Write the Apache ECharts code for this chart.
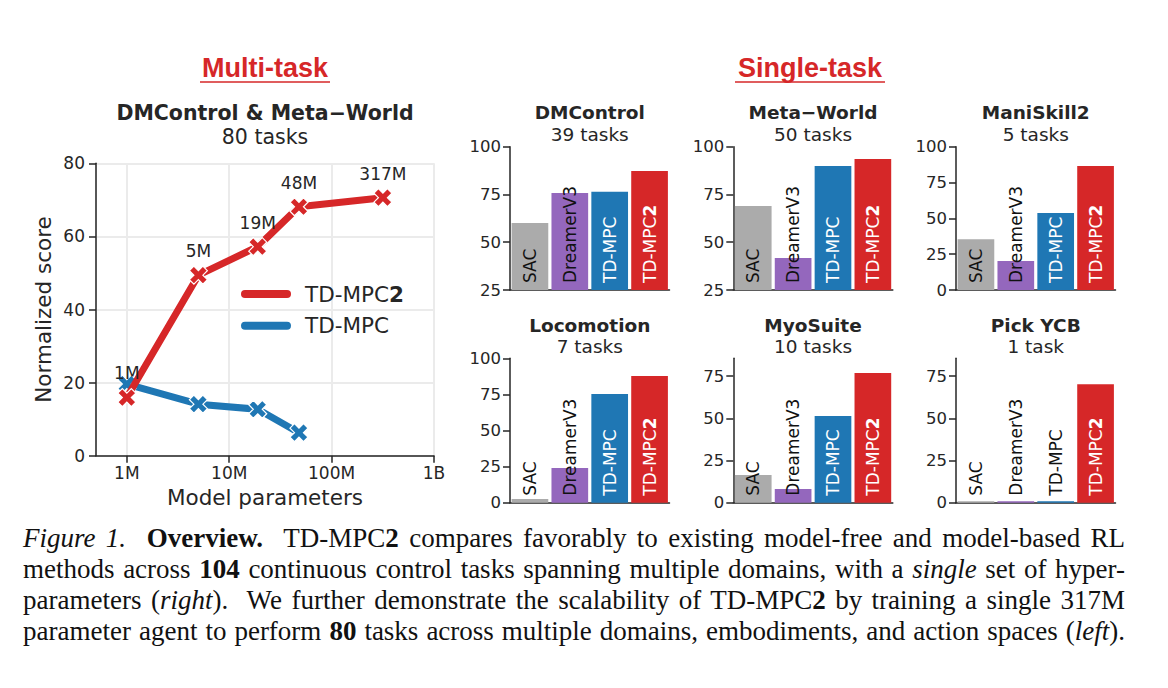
<!DOCTYPE html>
<html>
<head>
<meta charset="utf-8">
<title>TD-MPC2 overview</title>
<script src="https://cdn.jsdelivr.net/npm/echarts@6/dist/echarts.min.js"></script>
<style>
html, body { margin: 0; padding: 0; background: #fff; }
#main { position: absolute; left: 0; top: 0; width: 1168px; height: 688px; }
#caption { position: absolute; left: 23px; top: 523px; width: 1102px;
  font-family: "Liberation Serif", "Times New Roman", serif; font-size: 27px;
  line-height: 31px; color: #111; }
#caption div { text-align: justify; text-align-last: justify; white-space: nowrap; }
</style>
</head>
<body>
<div id="main"></div>
<div id="caption">
<div><i>Figure 1.</i>&nbsp; <b>Overview.</b>&nbsp; TD-MPC<b>2</b> compares favorably to existing model-free and model-based RL</div>
<div>methods across <b>104</b> continuous control tasks spanning multiple domains, with a <i>single</i> set of hyper-</div>
<div>parameters (<i>right</i>).&nbsp; We further demonstrate the scalability of TD-MPC<b>2</b> by training a single 317M</div>
<div>parameter agent to perform <b>80</b> tasks across multiple domains, embodiments, and action spaces (<i>left</i>).</div>
</div>
<script>
// multi-task: score vs model size
var paramLabels = ['1M', '5M', '19M', '48M', '317M'];
var paramCounts = [1e6, 5e6, 19e6, 48e6, 317e6];
var tdmpc2Multi = [15.9, 49.4, 57.2, 68.1, 70.6];
var tdmpcCounts = [1e6, 5e6, 19e6, 48e6];
var tdmpcMulti = [19.6, 14.1, 12.7, 6.3];
var sizeTicks = {1e6: '1M', 1e7: '10M', 1e8: '100M', 1e9: '1B'};

// single-task: one bar per method
var methods = ['SAC', 'DreamerV3', 'TD-MPC', 'TD-MPC2'];
var domainNames = ['DMControl', 'Meta\u2212World', 'ManiSkill2', 'Locomotion', 'MyoSuite', 'Pick YCB'];
var domainTasks = ['39 tasks', '50 tasks', '5 tasks', '7 tasks', '10 tasks', '1 task'];
var dmcontrolScores = [60.1, 75.8, 76.4, 87.3];
var metaworldScores = [69.0, 41.7, 89.9, 93.6];
var maniskillScores = [35.4, 20.3, 53.7, 86.5];
var locomotionScores = [2.5, 24.0, 75.3, 87.7];
var myosuiteScores = [16.4, 8.1, 51.3, 76.8];
var pickycbScores = [0.8, 0.8, 0.8, 70.2];
var yMins = [25, 25, 0, 0, 0, 0];
var yMaxs = [100, 100, 100, 100, 85.5, 85.5];
var yTicks = [[25, 50, 75, 100], [25, 50, 75, 100], [0, 25, 50, 75, 100],
              [0, 25, 50, 75, 100], [0, 25, 50, 75], [0, 25, 50, 75]];

var allScores = [dmcontrolScores, metaworldScores, maniskillScores,
                 locomotionScores, myosuiteScores, pickycbScores];
var methodColors = ['#ababab', '#9467bd', '#1f77b4', '#d62728'];

var ink = '#262626';
var sans = '"DejaVu Sans", sans-serif';
var xMark = 'path://M3,0L4,1L3,2L4,3L3,4L2,3L1,4L0,3L1,2L0,1L1,0L2,1Z';

var grids = [{left: 96, top: 163.3, width: 338, height: 292.4}];
var xAxes = [{
  type: 'log', logBase: 10, min: 5e5, max: 1e9, gridIndex: 0,
  axisLine: {lineStyle: {color: ink, width: 1.5}},
  axisTick: {length: 7, lineStyle: {color: ink, width: 1.5}},
  axisLabel: {showMinLabel: false, margin: 9, fontSize: 17, color: ink, fontFamily: sans,
    formatter: function (v) { return sizeTicks[Math.round(v)] || ''; }},
  splitLine: {show: true, lineStyle: {color: '#ebebeb', width: 2}},
  name: 'Model parameters', nameLocation: 'middle', nameGap: 31,
  nameTextStyle: {fontSize: 21.5, color: ink, fontFamily: sans}
}];
var yAxes = [{
  type: 'value', min: 0, max: 80, interval: 20, gridIndex: 0,
  axisLine: {show: true, lineStyle: {color: ink, width: 1.5}},
  axisTick: {show: true, length: 7, lineStyle: {color: ink, width: 1.5}},
  axisLabel: {margin: 11, fontSize: 17, color: ink, fontFamily: sans},
  splitLine: {show: true, lineStyle: {color: '#ebebeb', width: 2}},
  name: 'Normalized score', nameLocation: 'middle', nameGap: 42,
  nameTextStyle: {fontSize: 21.5, color: ink, fontFamily: sans}
}];

function pairs(xs, ys) {
  return xs.map(function (x, i) { return [x, ys[i]]; });
}

var series = [{
  name: 'TD-MPC', type: 'line', xAxisIndex: 0, yAxisIndex: 0,
  data: pairs(tdmpcCounts, tdmpcMulti),
  symbol: xMark, symbolSize: 18, z: 3,
  lineStyle: {color: '#1f77b4', width: 7},
  itemStyle: {color: '#1f77b4', borderColor: '#fff', borderWidth: 1.2}
}, {
  name: 'TD-MPC2', type: 'line', xAxisIndex: 0, yAxisIndex: 0,
  data: pairs(paramCounts, tdmpc2Multi),
  symbol: xMark, symbolSize: 18, z: 4,
  lineStyle: {color: '#d62728', width: 7},
  itemStyle: {color: '#d62728', borderColor: '#fff', borderWidth: 1.2},
  label: {show: true, position: 'top', distance: 6, fontSize: 17, color: ink, fontFamily: sans,
    formatter: function (p) { return paramLabels[p.dataIndex]; }}
}];

// small bar panels, 3 x 2
var colLefts = [510, 733.3, 956];
var rowTops = [146.7, 358.3];
var rowHeights = [143.3, 144.4];
var panelWidth = 159.5;

var graphics = [];
function addText(x, y, text, size, bold, color, family) {
  graphics.push({type: 'text', x: x, y: y, silent: true,
    style: {text: text, fill: color || ink, textAlign: 'center', textVerticalAlign: 'middle',
      font: (bold ? 'bold ' : '') + size + 'px ' + (family || sans)}});
}

allScores.forEach(function (scores, k) {
  var col = k % 3, row = Math.floor(k / 3);
  var g = k + 1;
  grids.push({left: colLefts[col], top: rowTops[row], width: panelWidth, height: rowHeights[row]});
  xAxes.push({
    type: 'category', data: methods, gridIndex: g,
    axisLine: {lineStyle: {color: ink, width: 1.5}},
    axisTick: {show: false}, axisLabel: {show: false}
  });
  yAxes.push({
    type: 'value', gridIndex: g, min: yMins[k], max: yMaxs[k], interval: 25,
    axisLine: {show: true, lineStyle: {color: ink, width: 1.5}},
    axisTick: {show: true, length: 7, customValues: yTicks[k], lineStyle: {color: ink, width: 1.5}},
    axisLabel: {customValues: yTicks[k], margin: 9, fontSize: 16.5, color: ink, fontFamily: sans},
    splitLine: {show: false}
  });
  series.push({
    type: 'bar', xAxisIndex: g, yAxisIndex: g, barWidth: '92%',
    data: scores.map(function (v, i) {
      var light = i >= 2 && v > 30;
      return {
        value: v,
        itemStyle: {color: methodColors[i]},
        label: {color: light ? '#fff' : '#111'}
      };
    }),
    label: {
      show: true, position: 'insideBottom', distance: 7, rotate: 90,
      align: 'left', verticalAlign: 'middle', fontSize: 17, fontFamily: sans,
      formatter: function (p) {
        return p.dataIndex === 3 ? '{a|TD-MPC}{b|2}' : '{a|' + methods[p.dataIndex] + '}';
      },
      rich: {a: {fontSize: 17, fontFamily: sans}, b: {fontSize: 17, fontFamily: sans, fontWeight: 'bold'}}
    }
  });
  var cx = colLefts[col] + panelWidth / 2;
  var ty = row === 0 ? 112.7 : 325;
  addText(cx, ty, domainNames[k], 18.5, true);
  addText(cx, ty + 21.7, domainTasks[k], 18.5, false);
});

// headings
addText(265, 112.7, 'DMControl & Meta\u2212World', 20.5, true);
addText(265, 137, '80 tasks', 20.5, false);
addText(265, 68, 'Multi-task', 27, true, '#d62728', '"Liberation Sans", Arial, sans-serif');
addText(810, 68, 'Single-task', 27, true, '#d62728', '"Liberation Sans", Arial, sans-serif');
graphics.push({type: 'line', silent: true, shape: {x1: 200, y1: 82, x2: 330, y2: 82},
  style: {stroke: '#d62728', lineWidth: 1.6}});
graphics.push({type: 'line', silent: true, shape: {x1: 735, y1: 82, x2: 885, y2: 82},
  style: {stroke: '#d62728', lineWidth: 1.6}});

var chart = echarts.init(document.getElementById('main'), null, {renderer: 'svg'});
chart.setOption({
  backgroundColor: '#fff',
  animation: false,
  grid: grids,
  xAxis: xAxes,
  yAxis: yAxes,
  legend: {
    data: ['TD-MPC2', 'TD-MPC'], orient: 'vertical', left: 241, top: 283, padding: 0,
    itemWidth: 50, itemHeight: 8, itemGap: 9.7,
    icon: 'path://M4,0L46,0A4,4,0,0,1,46,8L4,8A4,4,0,0,1,4,0Z',
    itemStyle: {borderWidth: 0},
    formatter: function (name) {
      return name === 'TD-MPC2' ? '{a|TD-MPC}{b|2}' : '{a|TD-MPC}';
    },
    textStyle: {color: ink, fontSize: 21.5, fontFamily: sans, lineHeight: 22,
      rich: {a: {fontSize: 21.5, fontFamily: sans, color: ink, padding: [0, 0, 0, 9], lineHeight: 22},
             b: {fontSize: 21.5, fontFamily: sans, color: ink, fontWeight: 'bold', lineHeight: 22}}}
  },
  series: series,
  graphic: graphics
});
</script>
</body>
</html>
